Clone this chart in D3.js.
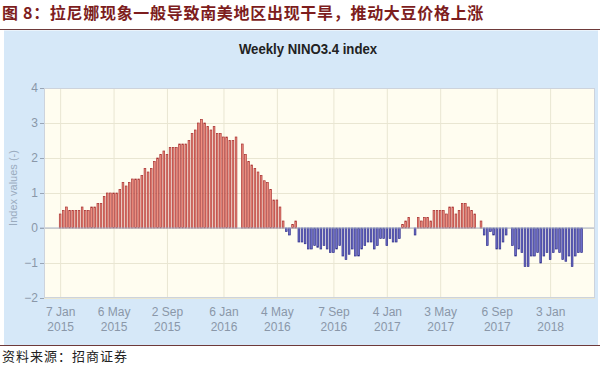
<!DOCTYPE html>
<html>
<head>
<meta charset="utf-8">
<script src="https://cdn.jsdelivr.net/npm/d3@7"></script>
<style>
  body { margin: 0; background: #fff; }
  svg { display: block; }
</style>
</head>
<body>
<svg id="chart" width="600" height="366"></svg>
<script>
// 数据
const firstWeek = "2015-01-07";
// 每周一个值，null 表示缺失
const ninoValues = [
  0.4, 0.5, 0.6, 0.5, 0.5, 0.5, 0.5, 0.6, 0.5, 0.5,
  0.6, 0.6, 0.7, 0.7, 0.9, 1.0, 1.0, 1.0, 1.0, 1.1,
  1.3, 1.2, 1.3, 1.4, 1.4, 1.4, 1.5, 1.7, 1.6, 1.7,
  1.9, 2.0, 2.1, 2.2, 2.1, 2.3, 2.3, 2.3, 2.4, 2.4,
  2.4, 2.5, 2.7, 2.8, 3.0, 3.1, 3.0, 2.9, 2.8, 2.9,
  2.7, 2.7, 2.6, 2.6, 2.5, 2.5, 2.6, null, 2.4, 2.1,
  1.9, 1.8, 1.7, 1.6, 1.5, 1.35, 1.3, 1.1, 0.8, 0.8,
  0.6, 0.2, -0.1, -0.2, 0.1, 0.2,
  -0.4, -0.4, -0.45, -0.6, -0.6, -0.5, -0.55, -0.6, -0.5, -0.6,
  -0.7, -0.7, -0.6, -0.5, -0.8, -0.9, -0.75, -0.6, -0.8, -0.8,
  -0.6, -0.5, -0.4, -0.4, -0.6, -0.5, -0.3, -0.3, -0.5, -0.3,
  -0.4, -0.4, -0.3,
  0.1, 0.2, 0.3, null, -0.2,
  0.3, 0.2, 0.3, 0.3, 0.2, 0.5, 0.5, 0.5, 0.5, 0.4,
  0.6, 0.6, 0.4, 0.5, 0.7, 0.7, 0.6, 0.5, 0.4, null, 0.2,
  -0.2, -0.5, -0.1, -0.2, -0.6, -0.6, -0.4, -0.2, null,
  -0.5, -0.8, -0.6, -0.7, -1.1, -1.1, -0.8, -0.8, -0.7, -1.0,
  -0.8, -0.7, -0.9, -0.7, -0.6, -0.7, -0.9, -0.95, -0.8, -1.1,
  -0.8, -0.7, -0.7
];
const tickDates = ["2015-01-07", "2015-05-06", "2015-09-02", "2016-01-06", "2016-05-04",
                   "2016-09-07", "2017-01-04", "2017-05-03", "2017-09-06", "2018-01-03"];
const yTicks = [-2, -1, 0, 1, 2, 3, 4];
const xDomain = ["2014-12-02", "2018-04-13"];

const figTitle = "图 8：拉尼娜现象一般导致南美地区出现干旱，推动大豆价格上涨";
const chartTitle = "Weekly NINO3.4 index";
const yTitle = "Index values (-)";
const sourceText = "资料来源：招商证券";

// 画布
const svg = d3.select("#chart");
const parse = d3.timeParse("%Y-%m-%d");
const start = parse(firstWeek);
const weeks = ninoValues.map((v, i) => ({ date: d3.timeDay.offset(start, 7 * i), value: v }))
  .filter(d => d.value !== null);

const plot = { left: 44, right: 595, top: 88, bottom: 298 };

const x = d3.scaleTime()
  .domain(xDomain.map(parse))
  .range([plot.left, plot.right]);
const y = d3.scaleLinear()
  .domain([-2, 4])
  .range([plot.bottom, plot.top]);

// 大标题
svg.append("text")
  .attr("x", 2)
  .attr("y", 19)
  .text(figTitle)
  .style("font-family", "'Noto Sans CJK SC', sans-serif")
  .style("font-weight", "bold")
  .style("font-size", "16px")
  .style("letter-spacing", "0.7px")
  .style("fill", "#7d1d1d");

svg.append("line")
  .attr("x1", 0).attr("x2", 600)
  .attr("y1", 29.5).attr("y2", 29.5)
  .style("stroke", "#6e3a3a")
  .style("stroke-width", 1.2);

// 浅蓝色底板
svg.append("rect")
  .attr("x", 4).attr("y", 30.5)
  .attr("width", 594).attr("height", 314.5)
  .style("fill", "#d6e8f8");

svg.append("line")
  .attr("x1", 0).attr("x2", 600)
  .attr("y1", 345.5).attr("y2", 345.5)
  .style("stroke", "#6e3a3a")
  .style("stroke-width", 1.2);

// 图表标题（略窄）
svg.append("text")
  .attr("transform", "translate(308,54) scale(0.88,1)")
  .attr("text-anchor", "middle")
  .text(chartTitle)
  .style("font-family", "'Liberation Sans', Arial, sans-serif")
  .style("font-weight", "bold")
  .style("font-size", "15px")
  .style("fill", "#222");

// 绘图区
svg.append("rect")
  .attr("x", plot.left).attr("y", plot.top)
  .attr("width", plot.right - plot.left).attr("height", plot.bottom - plot.top)
  .style("fill", "#fffdf0");

// 网格线
svg.append("g")
  .attr("class", "grid-y")
  .attr("transform", `translate(${plot.left},0)`)
  .call(d3.axisLeft(y).tickValues(yTicks).tickSize(-(plot.right - plot.left)).tickFormat(""))
  .call(g => g.select(".domain").remove())
  .call(g => g.selectAll("line").style("stroke", "#e9e6d2"));

svg.append("g")
  .attr("class", "grid-x")
  .attr("transform", `translate(0,${plot.bottom})`)
  .call(d3.axisBottom(x).tickValues(tickDates.map(parse)).tickSize(-(plot.bottom - plot.top)).tickFormat(""))
  .call(g => g.select(".domain").remove())
  .call(g => g.selectAll("line").style("stroke", "#e9e6d2"));

// 柱子
const barW = 1.7;
svg.append("g")
  .selectAll("rect")
  .data(weeks)
  .join("rect")
  .attr("x", d => x(d.date) - barW / 2)
  .attr("y", d => y(Math.max(0, d.value)))
  .attr("width", barW)
  .attr("height", d => Math.abs(y(d.value) - y(0)))
  .style("fill", d => d.value > 0 ? "#f09080" : "#7070cc")
  .style("stroke", d => d.value > 0 ? "#a83232" : "#2e2e8a")
  .style("stroke-width", 0.7);

// 零线
svg.append("line")
  .attr("x1", plot.left - 4).attr("x2", plot.right)
  .attr("y1", y(0)).attr("y2", y(0))
  .style("stroke", "#a7b0c8")
  .style("stroke-width", 1);

// 绘图区边框
svg.append("rect")
  .attr("x", plot.left + 0.5).attr("y", plot.top + 0.5)
  .attr("width", plot.right - plot.left - 1).attr("height", plot.bottom - plot.top - 1)
  .style("fill", "none")
  .style("stroke", "#cdd3dc");

// Y 轴
svg.append("g")
  .attr("class", "y-axis")
  .attr("transform", `translate(${plot.left},0)`)
  .call(d3.axisLeft(y).tickValues(yTicks).tickSize(4).tickPadding(2).tickFormat(d3.format("d")))
  .call(g => g.select(".domain").remove())
  .call(g => g.selectAll("line").style("stroke", "#9aa6b6"))
  .call(g => g.selectAll("text")
    .style("font-family", "'Liberation Sans', Arial, sans-serif")
    .style("font-size", "12px")
    .style("fill", "#8a97a8"));

svg.append("text")
  .attr("transform", "translate(17,188) rotate(-90)")
  .attr("text-anchor", "middle")
  .text(yTitle)
  .style("font-family", "'Liberation Sans', Arial, sans-serif")
  .style("font-size", "11px")
  .style("fill", "#9aabbe");

// X 轴（两行标签）
const fmtTop = d3.timeFormat("%-d %b");
const fmtBottom = d3.timeFormat("%Y");
svg.append("g")
  .attr("class", "x-axis")
  .attr("transform", `translate(0,${plot.bottom})`)
  .call(d3.axisBottom(x).tickValues(tickDates.map(parse)).tickSize(0).tickFormat(""))
  .call(g => g.select(".domain").remove())
  .call(g => g.selectAll(".tick").each(function(d) {
    const t = d3.select(this).append("text")
      .attr("text-anchor", "middle")
      .style("font-family", "'Liberation Sans', Arial, sans-serif")
      .style("font-size", "12px")
      .style("fill", "#8a97a8");
    t.append("tspan").attr("x", 0).attr("y", 18).text(fmtTop(d));
    t.append("tspan").attr("x", 0).attr("y", 33).text(fmtBottom(d));
  }));

// 资料来源
svg.append("text")
  .attr("x", 2)
  .attr("y", 361)
  .text(sourceText)
  .style("font-family", "'Noto Sans CJK SC', sans-serif")
  .style("font-size", "13px")
  .style("letter-spacing", "1px")
  .style("fill", "#222");
</script>
</body>
</html>
